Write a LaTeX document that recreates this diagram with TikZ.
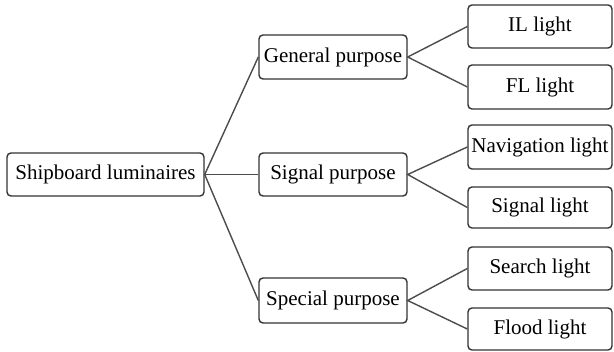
\documentclass[tikz,border=0pt]{standalone}
\usepackage{fontspec}
\setmainfont{Liberation Serif}
\begin{document}
\begin{tikzpicture}[x=1pt,y=-1pt,
  box/.style={draw=black!80, line width=1.4pt, rounded corners=4pt, inner sep=0pt, font=\fontsize{21}{24}\selectfont, text=black},
  link/.style={draw=black!70, line width=1.4pt}]
\useasboundingbox (0,0) rectangle (614,352);
\node[box, minimum width=197pt, minimum height=43pt] (root) at (105.5,174.5) {Shipboard luminaires};
\node[box, minimum width=148pt, minimum height=44pt] (gen) at (333,57) {General purpose};
\node[box, minimum width=148pt, minimum height=43pt] (sig) at (333,174.5) {Signal purpose};
\node[box, minimum width=148pt, minimum height=45pt] (spe) at (333,300.5) {Special purpose};
\node[box, minimum width=144pt, minimum height=43pt] (il) at (540,26.5) {IL light};
\node[box, minimum width=144pt, minimum height=44pt] (fl) at (540,87) {FL light};
\node[box, minimum width=144pt, minimum height=44pt] (nav) at (540,147) {Navigation light};
\node[box, minimum width=144pt, minimum height=41pt] (sl) at (540,207.5) {Signal light};
\node[box, minimum width=144pt, minimum height=43pt] (sea) at (540,268.5) {Search light};
\node[box, minimum width=144pt, minimum height=42pt] (fld) at (540,329) {Flood light};
\draw[link] (gen.west) -- (root.east) -- (spe.west);
\draw[link] (root.east) -- (sig.west);
\draw[link] (il.west) -- (gen.east) -- (fl.west);
\draw[link] (nav.west) -- (sig.east) -- (sl.west);
\draw[link] (sea.west) -- (spe.east) -- (fld.west);
\end{tikzpicture}
\end{document}
